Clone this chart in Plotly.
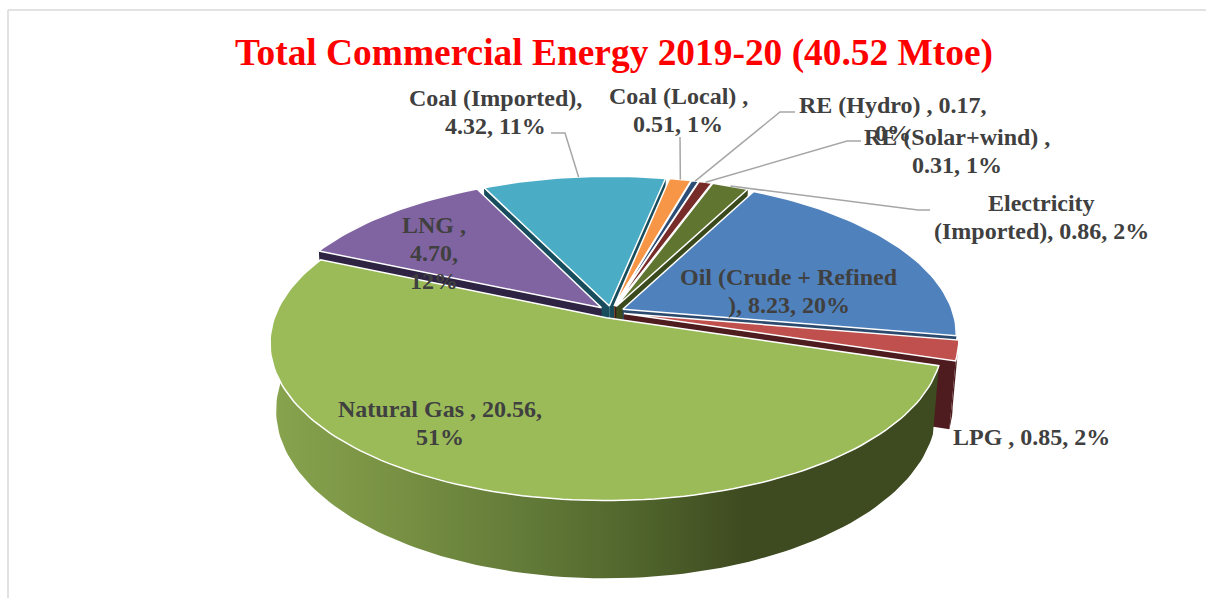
import math
import plotly.graph_objects as go

# ---- data (clockwise from the Oil slice) ----
categories = ["Oil (Crude + Refined", "LPG", "Natural Gas", "LNG", "Coal (Imported)",
              "Coal (Local)", "RE (Hydro)", "RE (Solar+wind)", "Electricity (Imported)"]
values = [8.23, 0.85, 20.56, 4.70, 4.32, 0.51, 0.17, 0.31, 0.86]
top_colors = ["#4f81bd", "#c0504d", "#9bbb59", "#8064a2", "#4bacc6",
              "#f79646", "#2c4d75", "#772c2a", "#5f7530"]
wall_colors = ["#2c4a6e", "#4e1c1e", "#3e4a20", "#2e2342", "#174d5c",
               "#a25a1e", "#1a2f48", "#451815", "#3a4a1c"]
label_lines = [
    (["Oil (Crude + Refined", "), 8.23, 20%"], 789, 291),
    (["LPG , 0.85, 2%"], 1031, 437),
    (["Natural Gas , 20.56,", "51%"], 440, 423),
    (["LNG ,", "4.70,", "12%"], 434, 253),
    (["Coal (Imported),", "4.32, 11%"], 495, 112),
    (["Coal (Local) ,", "0.51, 1%"], 678, 110),
    (["RE (Hydro) , 0.17,", "0%"], 893, 119),
    (["RE (Solar+wind) ,", "0.31, 1%"], 957, 151),
    (["Electricity", "(Imported), 0.86, 2%"], 1041, 217),
]
title_text = "Total Commercial Energy 2019-20 (40.52 Mtoe)"

# ---- projection of the tilted disc onto the page ----
START_DEG = 63.4
CX, CY = 611, 312
RX, RY = 330, 152
PERSP = 0.158
DEPTH = 65.0
TAPER = 0.018
EXPLODE = 0.04
LINE_GAP = 28
FONT = "Liberation Serif"
BACK_SKEW_MIN, BACK_SKEW_MAX = 0.7, 3.6


def project(x, y, drop=0.0):
    w = 1 + PERSP * y
    return (CX + RX * x / w * (1 - TAPER * drop),
            CY - RY * y / w + drop * DEPTH / w)


def arc(a0, a1, ox, oy, drop=0.0, n=None):
    n = n or max(2, int(abs(a1 - a0) / 1.5) + 1)
    pts = []
    for i in range(n + 1):
        a = math.radians(a0 + (a1 - a0) * i / n)
        pts.append(project(ox + math.cos(a), oy + math.sin(a), drop))
    return pts


def poly(pts, fill, line=None, lw=0.0, gradient=None):
    xs = [p[0] for p in pts] + [pts[0][0]]
    ys = [p[1] for p in pts] + [pts[0][1]]
    kw = dict(x=xs, y=ys, mode="lines", fill="toself", hoverinfo="skip", showlegend=False)
    kw["line"] = dict(color=line or fill, width=lw)
    if gradient:
        kw["fillgradient"] = gradient
    else:
        kw["fillcolor"] = fill
    return go.Scatter(**kw)


total = sum(values)
boundaries = [START_DEG]
for v in values:
    boundaries.append(boundaries[-1] - 360 * v / total)
ng_end = boundaries[categories.index("Natural Gas") + 1]


def view_angle(a):
    """The rear slices appear turned a little clockwise in the drawing's perspective."""
    if a > START_DEG - 1e-6:
        return a - BACK_SKEW_MIN
    if a > ng_end + 1e-6:
        return a - BACK_SKEW_MIN * max(0.0, (a - boundaries[2]) / (START_DEG - boundaries[2]))
    frac = (ng_end - a) / (ng_end - (START_DEG - 360))
    return a - (BACK_SKEW_MAX + (BACK_SKEW_MIN - BACK_SKEW_MAX) * frac)


slices = []
for i in range(len(values)):
    slices.append((i, view_angle(boundaries[i]), view_angle(boundaries[i + 1])))

fig = go.Figure()
ng_gradient = dict(
    type="horizontal",
    start=270,
    stop=950,
    colorscale=[[0, "#88a44e"], [0.2, "#768f42"], [0.38, "#627a38"],
                [0.55, "#4f632b"], [0.7, "#3e4a20"], [1, "#3e4a20"]],
)

for i, a0, a1 in sorted(slices, key=lambda s: -math.sin(math.radians((s[1] + s[2]) / 2))):
    mid = math.radians((a0 + a1) / 2)
    ox, oy = EXPLODE * math.cos(mid), EXPLODE * math.sin(mid)
    apex_t = project(ox, oy)
    apex_b = project(ox, oy, 1)
    # outer rim wall
    rim_top = arc(a0, a1, ox, oy)
    rim_bot = arc(a0, a1, ox, oy, 1)
    fig.add_trace(poly(rim_top + rim_bot[::-1], wall_colors[i],
                       gradient=ng_gradient if categories[i] == "Natural Gas" else None))
    # radial walls that face the viewer
    for a, sign in ((a0, 1), (a1, -1)):
        if math.sin(math.radians(a + sign * 90)) < 0:
            end = rim_top[0] if sign == 1 else rim_top[-1]
            end_b = rim_bot[0] if sign == 1 else rim_bot[-1]
            fig.add_trace(poly([apex_t, end, end_b, apex_b], wall_colors[i]))
    # top face
    fig.add_trace(poly([apex_t] + rim_top, top_colors[i], line="#ffffff", lw=1.5))

# ---- leader lines: label end, elbow, then the rim of the slice ----
leaders = {"Coal (Imported)": ([(551, 133), (565, 133)], -1),
           "Coal (Local)": ([(680, 137), (680, 150)], 0),
           "RE (Hydro)": ([(795, 112), (780, 112)], 0),
           "RE (Solar+wind)": ([(861, 141), (847, 141)], 0),
           "Electricity (Imported)": ([(930, 210), (918, 210)], 0)}
for i, a0, a1 in slices:
    if categories[i] in leaders:
        elbow, shift = leaders[categories[i]]
        mid = math.radians((a0 + a1) / 2)
        tip = math.radians((a0 + a1) / 2 + shift)
        ex = EXPLODE * math.cos(mid) + math.cos(tip)
        ey = EXPLODE * math.sin(mid) + math.sin(tip)
        pts = elbow + [project(ex, ey)]
        fig.add_trace(go.Scatter(x=[p[0] for p in pts], y=[p[1] for p in pts], mode="lines",
                                 line=dict(color="#a6a6a6", width=1.5),
                                 hoverinfo="skip", showlegend=False))

annotations = []
for lines, lx, ly in label_lines:
    for j, t in enumerate(lines):
        annotations.append(dict(x=lx, y=ly + (j - (len(lines) - 1) / 2) * LINE_GAP,
                                xref="x", yref="y", text="<b>%s</b>" % t, showarrow=False,
                                xanchor="center", yanchor="middle", align="center",
                                font=dict(family=FONT, size=24, color="#404040")))
annotations.append(dict(x=614, y=53, xref="x", yref="y", text="<b>%s</b>" % title_text,
                        showarrow=False, xanchor="center", yanchor="middle",
                        font=dict(family=FONT, size=37.4, color="#ff0000")))

shapes = [dict(type="line", x0=8, x1=8, y0=10, y1=598, xref="x", yref="y",
               line=dict(color="#d9d9d9", width=1.5)),
          dict(type="line", x0=8, x1=1206, y0=10, y1=10, xref="x", yref="y",
               line=dict(color="#d9d9d9", width=1.5))]

fig.update_layout(
    width=1206, height=598, margin=dict(l=0, r=0, t=0, b=0),
    paper_bgcolor="#ffffff", plot_bgcolor="#ffffff", showlegend=False,
    xaxis=dict(range=[0, 1206], visible=False, fixedrange=True),
    yaxis=dict(range=[598, 0], visible=False, fixedrange=True),
    annotations=annotations, shapes=shapes,
)
fig.write_html("out.html", config={"displayModeBar": False},
               post_script="document.body.style.margin='0';document.body.style.overflow='hidden';")
